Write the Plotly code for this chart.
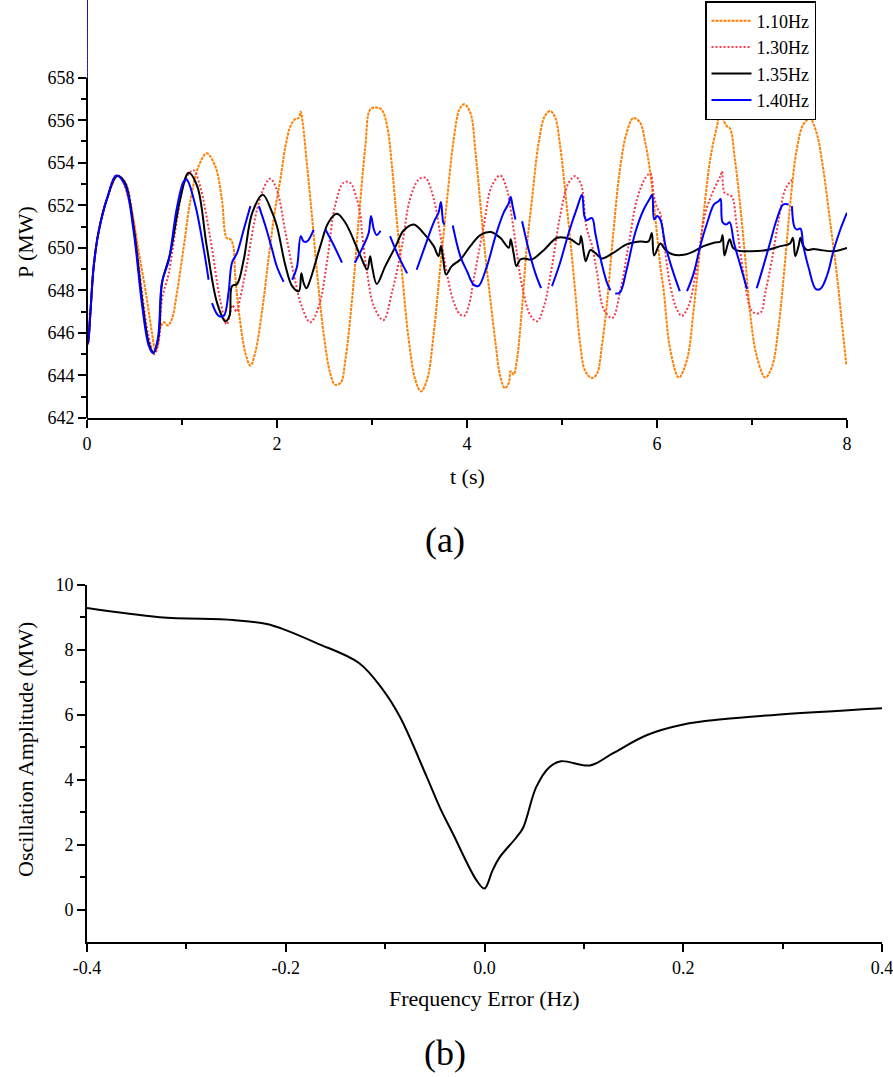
import plotly.graph_objects as go

# ---- (a) P(t) for different excitation frequencies ----
t_110 = [0, 0.012, 0.035, 0.07, 0.12, 0.21, 0.33, 0.456, 0.545, 0.63, 0.684, 0.72, 0.745, 0.77, 0.81,
         0.85, 0.895, 0.947, 1.02, 1.09, 1.175, 1.26, 1.35, 1.42, 1.47, 1.51, 1.54, 1.56, 1.61, 1.667,
         1.72, 1.77, 1.84, 1.91, 1.98, 2.035, 2.09, 2.14, 2.19, 2.228, 2.25, 2.27, 2.316, 2.37, 2.42,
         2.49, 2.56, 2.61, 2.67, 2.72, 2.79, 2.86, 2.93, 2.98, 3.035, 3.1, 3.16, 3.21, 3.26, 3.316,
         3.386, 3.456, 3.516, 3.58, 3.65, 3.72, 3.79, 3.86, 3.92, 3.97, 4.035, 4.09, 4.14, 4.19, 4.246,
         4.3, 4.35, 4.40, 4.44, 4.46, 4.49, 4.526, 4.58, 4.63, 4.684, 4.754, 4.82, 4.877, 4.93, 4.98,
         5.035, 5.09, 5.14, 5.19, 5.245, 5.316, 5.37, 5.42, 5.47, 5.54, 5.61, 5.68, 5.75, 5.82, 5.877,
         5.93, 5.98, 6.035, 6.07, 6.14, 6.23, 6.316, 6.386, 6.47, 6.56, 6.63, 6.67, 6.71, 6.74, 6.77,
         6.82, 6.88, 6.93, 6.98, 7.05, 7.14, 7.21, 7.28, 7.35, 7.40, 7.47, 7.54, 7.61, 7.68, 7.75,
         7.82, 7.895, 7.95, 7.993]
p_110 = [668, 645.5, 646.9, 649.1, 650.7, 652.3, 653.4, 652.0, 649.8, 647.6, 646.0, 645.2, 645.4, 646.2, 646.5,
         646.35, 646.67, 647.9, 650.1, 652.27, 653.84, 654.44, 653.84, 652.27, 650.47, 650.4, 650.08, 648.7, 646.6, 645.06,
         644.46, 645.06, 646.94, 649.45, 651.8, 653.2, 654.8, 655.7, 656.05, 656.1, 656.4, 655.9, 653.9, 651.4, 648.9,
         646.0, 644.1, 643.57, 643.65, 644.75, 647.57, 651.33, 654.78, 656.5, 656.6, 656.5, 655.7, 653.84, 651.33, 648.8,
         645.7, 643.8, 643.25, 643.8, 646.0, 649.14, 652.27, 655.1, 656.5, 656.75, 656.35, 654.47, 652.1, 649.76, 647.57,
         645.53, 643.96, 643.4, 643.65, 644.2, 644.04, 644.75, 647.25, 650.08, 652.27, 654.94, 656.2, 656.43, 656.1, 654.8,
         652.6, 650.24, 647.9, 645.53, 644.2, 643.88, 644.1, 645.4, 647.25, 650.7, 653.7, 655.4, 656.1, 655.9, 654.94,
         653.5, 651.5, 649.14, 648.0, 645.2, 643.9, 644.75, 647.1, 650.7, 654.16, 655.7, 656.4, 655.9, 655.7, 655.6,
         654.16, 651.8, 649.45, 646.94, 644.9, 643.9, 644.4, 646.3, 649.45, 651.96, 654.6, 655.8, 656.07, 655.4, 653.7,
         651.3, 648.67, 646.3, 644.5]

t_130 = [0, 0.012, 0.035, 0.07, 0.12, 0.21, 0.31, 0.40, 0.49, 0.58, 0.65, 0.71, 0.755, 0.79, 0.86,
         0.947, 1.035, 1.12, 1.19, 1.30, 1.40, 1.47, 1.50, 1.53, 1.575, 1.61, 1.68, 1.79, 1.88, 1.93,
         2.0, 2.09, 2.175, 2.26, 2.35, 2.44, 2.53, 2.61, 2.70, 2.77, 2.84, 2.88, 2.895, 2.95, 3.02,
         3.12, 3.21, 3.316, 3.40, 3.49, 3.56, 3.65, 3.72, 3.78, 3.85, 3.92, 3.97, 4.02, 4.07, 4.175,
         4.26, 4.35, 4.42, 4.47, 4.53, 4.58, 4.67, 4.74, 4.81, 4.895, 4.98, 5.07, 5.14, 5.2, 5.22,
         5.256, 5.316, 5.37, 5.44, 5.53, 5.61, 5.70, 5.79, 5.88, 5.93, 5.965, 6.0, 6.035, 6.07, 6.14,
         6.21, 6.26, 6.33, 6.42, 6.51, 6.6, 6.67, 6.684, 6.71, 6.75, 6.79, 6.84, 6.91, 6.98, 7.02,
         7.09, 7.14, 7.21, 7.28, 7.35, 7.42]
p_130 = [668, 645.5, 646.9, 649.1, 650.7, 652.3, 653.4, 653.1, 651.2, 647.9, 645.8, 645.0, 645.6, 647.6, 648.8,
         651.3, 653.2, 653.65, 652.9, 650.4, 647.6, 646.4, 646.8, 647.3, 647.0, 647.6, 649.14, 651.8, 653.0, 653.25,
         652.7, 650.7, 648.8, 647.25, 646.5, 647.25, 649.45, 651.96, 653.06, 653.06, 652.3, 651.5, 650.7, 648.8, 647.25,
         646.6, 647.9, 650.1, 652.3, 653.2, 653.3, 652.3, 650.6, 649.0, 647.6, 646.9, 646.8, 647.3, 648.5, 651.0,
         652.9, 653.4, 652.75, 651.5, 649.6, 648.2, 646.8, 646.55, 647.25, 649.14, 651.5, 653.06, 653.37, 653.0, 652.6,
         651.0, 650.1, 648.8, 647.1, 646.7, 647.9, 650.1, 652.3, 653.3, 653.5, 652.5, 651.9, 651.6, 650.4, 648.2,
         647.1, 646.8, 647.25, 649.14, 651.65, 652.75, 653.4, 653.6, 652.6, 652.5, 652.4, 651.0, 648.8, 647.2, 646.95,
         646.95, 647.9, 649.45, 651.3, 652.75, 653.2]

t_135 = [0, 0.012, 0.035, 0.07, 0.12, 0.21, 0.316, 0.40, 0.49, 0.58, 0.65, 0.70, 0.754, 0.79, 0.877,
         0.98, 1.07, 1.16, 1.26, 1.37, 1.456, 1.50, 1.526, 1.58, 1.65, 1.74, 1.85, 1.95, 2.0, 2.09,
         2.16, 2.23, 2.256, 2.28, 2.31, 2.35, 2.456, 2.54, 2.63, 2.72, 2.88, 2.95, 2.98, 3.0, 3.05,
         3.14, 3.25, 3.33, 3.44, 3.54, 3.65, 3.70, 3.726, 3.75, 3.78, 3.84, 3.93, 4.035, 4.14, 4.25,
         4.35, 4.44, 4.46, 4.49, 4.52, 4.56, 4.6, 4.68, 4.81, 4.95, 5.09, 5.18, 5.2, 5.23, 5.25,
         5.30, 5.35, 5.42, 5.54, 5.68, 5.82, 5.91, 5.945, 5.97, 6.035, 6.09, 6.16, 6.28, 6.39, 6.49,
         6.6, 6.67, 6.69, 6.71, 6.74, 6.765, 6.8, 6.85, 6.98, 7.16, 7.30, 7.40, 7.43, 7.456, 7.49,
         7.51, 7.54, 7.58, 7.65, 7.72, 7.86, 8.0]
p_135 = [668, 645.5, 646.9, 649.1, 650.7, 652.3, 653.37, 653.06, 651.0, 647.57, 645.53, 645.06, 645.84, 648.35, 649.76,
         652.27, 653.53, 652.9, 650.08, 647.4, 646.55, 646.8, 648.2, 648.3, 649.45, 651.65, 652.5, 651.65, 651.0, 649.14,
         648.2, 647.96, 648.8, 648.35, 648.1, 648.5, 650.08, 651.18, 651.6, 651.18, 649.6, 648.98, 649.6, 649.14, 648.3,
         649.14, 650.08, 650.8, 651.1, 650.7, 650.08, 649.6, 650.08, 649.45, 648.75, 649.14, 649.45, 650.08, 650.6, 650.74,
         650.47, 650.0, 650.4, 649.76, 649.14, 649.45, 649.5, 649.45, 649.9, 650.47, 650.4, 650.16, 650.55, 649.76, 649.37,
         649.9, 649.76, 649.5, 649.76, 650.16, 650.3, 650.3, 650.7, 649.64, 650.2, 649.9, 649.7, 649.67, 649.84, 650.08,
         650.24, 650.3, 650.6, 649.64, 650.1, 650.4, 650.0, 649.87, 649.84, 649.9, 650.08, 650.2, 650.47, 649.6, 650.08,
         650.47, 650.08, 649.9, 649.95, 649.9, 649.84, 650.0]

# None marks the breaks in the 1.40 Hz record
t_140 = [0, 0.012, 0.035, 0.07, 0.12, 0.21, 0.31, 0.40, 0.49, 0.58, 0.65, 0.695, 0.745, 0.79, 0.86,
         0.947, 1.02, 1.05, 1.14, 1.23, 1.28, None, 1.316, 1.386, 1.44, 1.49, 1.526, 1.58, 1.65, 1.72,
         None, 1.81, 1.88, 1.95, 2.0, 2.07, None, 2.16, 2.21, 2.25, 2.28, 2.316, 2.386, None, 2.51,
         2.6, 2.684, None, 2.82, 2.91, 2.965, 2.99, 3.02, 3.05, 3.09, None, 3.19, 3.28, 3.37, None,
         3.47, 3.56, 3.65, 3.70, 3.726, 3.75, 3.765, None, 3.85, 3.93, 4.0, 4.07, 4.12, 4.21, 4.30,
         4.386, 4.44, 4.46, 4.48, 4.51, None, 4.58, 4.65, 4.72, 4.78, None, 4.895, 4.98, 5.07, 5.16,
         5.21, 5.235, 5.256, 5.316, 5.35, 5.40, 5.47, 5.51, None, 5.56, 5.61, 5.68, 5.77, 5.86, 5.93,
         5.95, 5.97, 6.0, 6.035, 6.09, 6.16, 6.24, None, 6.316, 6.386, 6.456, 6.53, 6.6, 6.65, 6.67,
         6.69, 6.73, 6.765, 6.81, 6.88, 6.947, None, 7.05, 7.12, 7.19, 7.26, 7.33, 7.386, None, 7.42,
         7.445, 7.47, 7.51, 7.54, 7.6, 7.67, 7.72, 7.79, 7.86, 7.93, 8.0]
p_140 = [668, 645.5, 646.9, 649.1, 650.7, 652.3, 653.4, 652.95, 650.8, 647.3, 645.4, 645.05, 645.7, 648.4, 649.4,
         651.9, 653.14, 653.2, 652.0, 649.9, 648.5, None, 647.4, 646.8, 646.8, 647.9, 649.3, 649.76, 650.86, 651.96,
         None, 651.96, 651.0, 649.9, 649.1, 648.4, None, 648.5, 649.1, 650.55, 650.3, 650.3, 650.86, None, 650.86,
         650.1, 649.3, None, 649.3, 650.1, 650.7, 651.5, 650.86, 650.6, 650.8, None, 650.55, 649.6, 648.8, None,
         648.97, 650.1, 651.2, 651.65, 652.15, 651.2, 651.1, None, 651.05, 649.6, 648.9, 648.27, 648.2, 649.14, 650.55,
         651.65, 652.1, 652.4, 651.96, 651.33, None, 651.25, 649.9, 648.8, 648.1, None, 648.2, 649.3, 650.7, 651.9,
         652.5, 651.5, 651.3, 651.4, 650.7, 649.6, 648.4, 648.0, None, 647.85, 647.9, 648.97, 650.7, 651.8, 652.35,
         652.5, 651.33, 651.5, 651.33, 650.08, 649.0, 647.96, None, 647.96, 648.8, 650.1, 651.2, 652.04, 652.2, 652.3,
         651.2, 651.1, 651.2, 650.24, 649.14, 648.07, None, 648.1, 649.14, 650.24, 651.33, 652.04, 652.04, None, 651.96,
         651.0, 650.86, 650.9, 650.1, 649.0, 648.07, 648.07, 648.7, 649.9, 650.86, 651.65]

# ---- (b) amplitude vs frequency error ----
f_err = [-0.4, -0.327, -0.253, -0.219, -0.2, -0.169, -0.126, -0.102, -0.085, -0.058, -0.045, -0.032, -0.008,
         0.0, 0.008, 0.015, 0.032, 0.039, 0.052, 0.065, 0.077, 0.106, 0.129, 0.163, 0.2, 0.239, 0.289, 0.4]
amp = [9.29, 9.01, 8.92, 8.80, 8.61, 8.21, 7.59, 6.76, 5.93, 4.08, 3.15, 2.35, 0.9,
       0.65, 1.2, 1.6, 2.22, 2.53, 3.77, 4.38, 4.57, 4.44, 4.81, 5.37, 5.7, 5.86, 5.99, 6.2]

W, H = 893, 1077
FONT = "Liberation Serif"

def px(x):
    return x / W

def py(y):
    return 1 - y / H

fig = go.Figure()
fig.add_trace(go.Scatter(x=t_110, y=p_110, name="1.10Hz", mode="lines", line_shape="spline",
                         line=dict(color="#FF8000", width=2, dash="3px,1px")))
fig.add_trace(go.Scatter(x=t_130, y=p_130, name="1.30Hz", mode="lines", line_shape="spline",
                         line=dict(color="#F23A4A", width=2, dash="2px,2px")))
fig.add_trace(go.Scatter(x=t_135, y=p_135, name="1.35Hz", mode="lines", line_shape="spline",
                         line=dict(color="black", width=2)))
fig.add_trace(go.Scatter(x=t_140, y=p_140, name="1.40Hz", mode="lines", line_shape="spline",
                         line=dict(color="#0000FF", width=2)))
fig.add_trace(go.Scatter(x=f_err, y=amp, mode="lines", line_shape="spline", showlegend=False,
                         line=dict(color="black", width=2), xaxis="x2", yaxis="y2"))

tickfont = dict(family=FONT, size=18, color="black")
common = dict(ticks="outside", ticklen=8, tickwidth=2, tickcolor="black", showgrid=False,
              zeroline=False, tickfont=tickfont, automargin=False, ticklabeloverflow="allow")
minor_style = dict(ticks="outside", ticklen=5, tickwidth=2, tickcolor="black")

fig.update_layout(
    width=W, height=H, margin=dict(l=0, r=0, t=0, b=0, autoexpand=False),
    paper_bgcolor="white", plot_bgcolor="white",
    font=dict(family=FONT, color="black"),
    xaxis=dict(domain=[px(87), px(847)], range=[0, 8], tickvals=[0, 2, 4, 6, 8],
               minor=dict(tickvals=[1, 3, 5, 7], **minor_style),
               showline=True, linewidth=2, linecolor="black", anchor="y", **common),
    yaxis=dict(domain=[py(418), 1], range=[642, 661.65], tickvals=list(range(642, 659, 2)),
               minor=dict(tickvals=list(range(643, 658, 2)), **minor_style),
               showline=False, anchor="x", **common),
    xaxis2=dict(domain=[px(87), px(882)], range=[-0.4, 0.4], tickvals=[-0.4, -0.2, 0, 0.2, 0.4],
                ticktext=["-0.4", "-0.2", "0.0", "0.2", "0.4"],
                minor=dict(tickvals=[-0.3, -0.1, 0.1, 0.3], **minor_style),
                showline=True, linewidth=2, linecolor="black", anchor="y2", **common),
    yaxis2=dict(domain=[py(942), py(585)], range=[-1, 10], tickvals=[0, 2, 4, 6, 8, 10],
                minor=dict(tickvals=[1, 3, 5, 7, 9], **minor_style),
                showline=True, linewidth=2, linecolor="black", anchor="x2", **common),
    legend=dict(x=px(705), y=py(1), xanchor="left", yanchor="top", bgcolor="white",
                bordercolor="black", borderwidth=1.5, font=dict(family=FONT, size=18, color="black"),
                tracegroupgap=0, itemwidth=40),
)

# left axis of (a) only spans the labelled part
fig.add_shape(type="line", xref="x domain", yref="y", x0=0, x1=0, y0=642, y1=658,
              line=dict(color="black", width=2))

def label(text, x, y, size=22, angle=0):
    fig.add_annotation(text=text, x=px(x), y=py(y), xref="paper", yref="paper",
                       xanchor="center", yanchor="middle", showarrow=False, textangle=angle,
                       font=dict(family=FONT, size=size, color="black"))

label("P (MW)", 25, 242, angle=-90)
label("t (s)", 467, 476)
label("(a)", 445, 540, size=36)
label("Oscillation Amplitude (MW)", 25, 750, angle=-90)
label("Frequency Error (Hz)", 484, 998)
label("(b)", 445, 1053, size=36)

# drop the default 8px page margin so the figure fills the window exactly
fig.write_html("out.html", config={"displayModeBar": False},
               post_script="document.body.style.margin='0';")
